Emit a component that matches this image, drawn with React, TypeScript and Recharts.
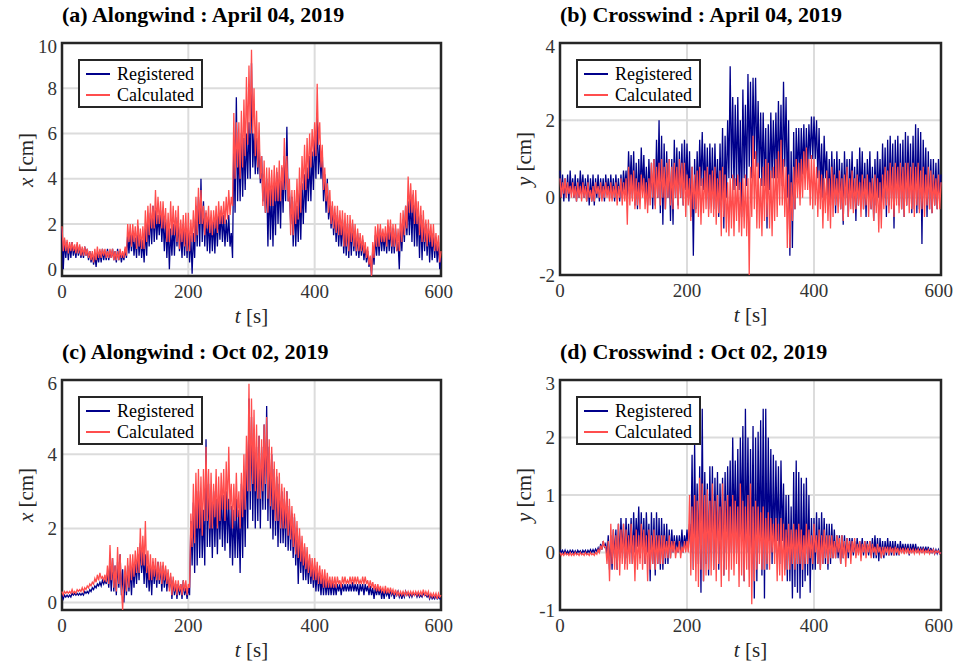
import React from 'react';
import { CartesianGrid, Line, LineChart, ReferenceArea, XAxis, YAxis } from 'recharts';

const FONT = "'Liberation Serif', 'DejaVu Serif', 'Times New Roman', serif";
const BLUE = '#00008B';
const RED = '#FF4D4D';

// sample times, every 2 s over 0..600 s
const time = Array.from({ length: 301 }, (_, i) => i * 2);
const xTicks = [0, 200, 400, 600];

// (a) Alongwind, April 04 2019 — one line per 40 s
const alongAprReg = [
  1.8, 0.0, 1.3, 0.5, 1.2, 0.4, 1.1, 0.5, 1.2, 0.6, 1.0, 0.5, 1.1, 0.6, 1.0, 0.5, 0.9, 0.5, 1.0, 0.6,
  0.9, 0.4, 0.8, 0.3, 0.7, 0.2, 0.6, 0.1, 0.7, 0.3, 0.8, 0.3, 0.9, 0.4, 0.8, 0.4, 0.9, 0.4, 0.8, 0.5,
  0.9, 0.4, 0.8, 0.3, 0.9, 0.4, 0.8, 0.3, 0.7, 0.4, 0.9, 0.5, 1.5, 0.7, 1.6, 0.8, 1.7, 0.6, 1.4, 0.5,
  1.9, 0.6, 1.5, 0.5, 1.3, 0.3, 1.8, 0.6, 2.2, 1.0, 2.5, 1.1, 2.8, 1.2, 2.6, 1.3, 2.4, 1.5, 2.6, 1.2,
  2.4, 0.8, 2.2, 0.5, 2.0, 0.0, 1.8, 0.6, 2.0, 0.6, 2.3, 1.0, 2.1, 0.8, 1.6, 0.5, 2.0, 0.6, 1.8, 0.5,
  1.8, 0.3, 1.5, -0.2, 1.6, 0.5, 2.8, 1.0, 3.2, 1.0, 4.0, 1.2, 3.0, 1.0, 2.5, 0.8, 2.3, 0.7, 2.2, 0.8,
  2.2, 0.7, 2.4, 1.0, 2.5, 1.3, 2.6, 1.2, 2.4, 1.0, 2.2, 1.2, 2.4, 1.0, 1.6, 0.5, 5.5, 2.5, 7.6, 3.0,
  5.5, 3.0, 6.0, 3.2, 5.8, 3.5, 6.0, 4.0, 6.5, 4.0, 9.1, 4.5, 6.0, 4.2, 5.8, 4.2, 5.6, 3.8, 5.0, 3.0,
  4.2, 2.5, 4.0, 1.0, 3.8, 1.3, 3.6, 1.0, 3.8, 1.5, 4.3, 2.0, 4.0, 1.8, 4.5, 2.5, 5.0, 3.0, 6.3, 3.0,
  3.5, 2.0, 3.2, 1.0, 3.0, 1.0, 2.8, 1.2, 3.5, 1.3, 3.8, 2.0, 4.2, 2.5, 4.5, 3.0, 5.0, 3.0, 5.2, 3.5,
  6.0, 4.0, 6.7, 4.2, 5.5, 4.0, 5.2, 3.0, 4.2, 2.5, 4.0, 2.2, 3.0, 1.8, 2.8, 1.5, 2.5, 1.2, 2.4, 1.0,
  2.2, 1.0, 2.2, 0.7, 1.8, 0.6, 2.0, 0.5, 1.9, 0.6, 2.0, 0.8, 1.6, 0.6, 1.6, 0.5, 1.4, 0.6, 1.3, 0.4,
  1.0, 0.3, 0.8, 0.1, 0.5, -0.3, 0.9, 0.2, 1.5, 0.6, 1.6, 0.6, 1.8, 0.8, 1.6, 0.8, 1.6, 0.7, 1.9, 0.8,
  1.9, 0.7, 1.8, 0.7, 1.8, 0.8, 1.2, 0.0, 2.0, 0.8, 2.2, 1.2, 2.8, 1.5, 3.0, 1.5, 3.2, 1.2, 3.3, 1.0,
  3.0, 1.0, 2.6, 0.5, 2.4, 0.4, 2.2, 0.8, 2.0, 0.6, 1.8, 0.3, 1.6, 0.4, 1.6, 0.5, 1.4, 0.3, 1.2, 0.0,
  0.5,
];
const alongAprCal = [
  1.9, 0.8, 1.4, 0.8, 1.3, 0.7, 1.2, 0.8, 1.2, 0.8, 1.1, 0.7, 1.2, 0.7, 1.1, 0.6, 1.0, 0.6, 1.0, 0.6,
  0.9, 0.5, 0.8, 0.4, 0.8, 0.3, 0.9, 0.4, 1.0, 0.5, 0.9, 0.5, 0.9, 0.6, 0.9, 0.5, 0.8, 0.5, 0.9, 0.5,
  0.9, 0.4, 0.8, 0.4, 0.8, 0.4, 0.9, 0.5, 0.8, 0.5, 1.0, 0.6, 2.0, 1.2, 2.0, 1.0, 2.0, 1.2, 1.9, 0.9,
  2.2, 1.0, 1.8, 0.9, 1.9, 0.9, 2.6, 1.2, 2.8, 1.5, 2.9, 1.8, 2.8, 1.8, 3.5, 2.0, 3.2, 2.0, 3.0, 1.8,
  3.0, 1.8, 2.7, 1.2, 2.5, 1.2, 3.0, 1.5, 2.8, 1.5, 2.6, 1.2, 2.8, 0.9, 2.2, 1.2, 2.4, 1.0, 2.5, 0.8,
  2.5, 0.8, 2.2, 1.2, 2.6, 1.2, 3.2, 1.5, 3.6, 2.0, 3.5, 2.0, 2.8, 1.5, 2.6, 1.8, 2.8, 1.6, 2.6, 1.5,
  2.6, 1.8, 2.8, 1.6, 3.0, 2.0, 2.8, 2.0, 3.0, 2.0, 3.2, 2.2, 3.5, 2.4, 3.2, 2.8, 6.9, 4.0, 6.5, 4.5,
  6.5, 4.0, 7.0, 4.5, 7.5, 5.0, 8.5, 5.5, 9.0, 6.0, 9.7, 6.0, 8.0, 5.0, 7.0, 4.5, 6.5, 4.0, 5.0, 2.8,
  4.8, 2.5, 4.5, 2.5, 4.5, 2.8, 4.4, 2.8, 4.6, 3.0, 4.5, 3.0, 4.8, 3.0, 4.6, 3.5, 5.8, 3.5, 5.0, 3.0,
  4.0, 1.5, 3.5, 1.5, 3.5, 2.0, 4.0, 2.2, 4.5, 2.5, 5.0, 3.5, 5.5, 3.5, 5.8, 4.0, 6.0, 4.5, 6.2, 5.0,
  6.5, 5.0, 8.2, 5.5, 6.5, 4.5, 5.5, 3.5, 4.5, 3.0, 3.8, 2.5, 3.5, 2.0, 3.0, 1.8, 2.8, 1.6, 2.8, 1.5,
  2.6, 1.5, 2.6, 1.0, 2.5, 1.0, 2.4, 0.8, 2.4, 1.2, 2.2, 1.0, 2.0, 0.8, 1.8, 0.8, 1.6, 0.8, 1.5, 0.7,
  1.2, 0.5, 1.0, 0.2, 0.6, -0.3, 1.2, 0.5, 1.9, 1.0, 2.0, 1.0, 2.0, 1.2, 1.8, 1.2, 1.9, 1.0, 2.2, 1.3,
  2.2, 1.0, 2.0, 1.0, 2.0, 0.8, 1.8, 0.8, 2.5, 1.2, 2.6, 1.5, 2.8, 1.8, 4.1, 2.5, 3.8, 2.5, 3.5, 2.0,
  3.5, 2.0, 3.0, 1.5, 2.8, 1.2, 2.6, 1.2, 2.2, 1.0, 2.2, 1.2, 2.0, 1.0, 2.0, 0.8, 1.6, 0.8, 1.5, 0.3,
  0.8,
];

// (b) Crosswind, April 04 2019
const crossAprReg = [
  0.7, 0.0, 0.6, -0.1, 0.5, 0.0, 0.6, -0.1, 0.7, 0.1, 0.5, 0.0, 0.6, -0.1, 0.5, 0.0, 0.7, 0.1, 0.6, 0.0,
  0.5, -0.1, 0.6, -0.2, 0.5, -0.1, 0.6, -0.2, 0.5, 0.0, 0.6, -0.1, 0.5, 0.0, 0.5, -0.1, 0.6, 0.1, 0.5, 0.0,
  0.6, 0.0, 0.5, -0.1, 0.6, 0.0, 0.5, -0.1, 0.6, 0.0, 0.7, 0.2, 0.7, 0.0, 1.2, 0.2, 1.1, 0.0, 1.2, -0.2,
  0.9, -0.3, 1.0, 0.0, 1.3, 0.2, 1.1, 0.0, 0.8, -0.2, 1.0, 0.0, 0.9, -0.3, 1.0, -0.2, 1.5, 0.0, 2.0, -0.4,
  1.6, -0.7, 1.4, -0.3, 1.2, 0.0, 1.0, -0.6, 1.0, -0.7, 1.5, 0.0, 1.3, -0.2, 1.2, 0.0, 1.4, -0.2, 1.5, 0.2,
  1.4, 0.0, 1.2, -0.5, 0.8, -1.5, 1.0, -0.3, 1.2, 0.0, 1.5, 0.3, 1.7, 0.2, 1.4, 0.0, 1.3, -0.3, 1.4, 0.0,
  1.3, -0.3, 1.4, 0.0, 1.0, -0.5, 1.4, -0.2, 1.8, -0.8, 1.6, 0.0, 2.0, 0.5, 3.4, 0.5, 2.6, 0.2, 2.4, 0.3,
  2.6, 0.2, 2.0, -0.5, 2.8, 0.5, 2.4, 0.3, 3.2, 0.8, 3.0, 0.5, 3.1, 1.0, 3.1, 0.8, 2.5, 0.5, 2.2, 0.3,
  2.2, 0.3, 1.8, -0.8, 1.9, 0.2, 2.2, 0.5, 2.0, 0.5, 2.2, 0.5, 2.5, 0.5, 2.4, 0.3, 3.0, 0.8, 2.6, 0.0,
  2.0, -1.5, 1.2, -1.3, 1.7, -0.3, 1.8, 0.5, 1.8, 0.4, 1.8, 0.6, 1.9, 0.5, 1.8, 0.6, 1.9, 1.0, 2.1, 1.0,
  2.1, 1.0, 2.0, 0.5, 1.8, 0.2, 1.4, 0.0, 1.6, 0.5, 1.2, -0.2, 1.0, -0.2, 1.2, 0.0, 1.0, -0.4, 1.2, -0.1,
  1.0, -0.3, 0.9, -0.7, 1.2, 0.0, 1.0, -0.5, 1.0, 0.0, 1.2, -0.3, 0.8, -0.6, 1.0, -0.2, 1.3, 0.0, 1.2, -0.3,
  0.9, -0.5, 1.0, 0.0, 1.2, -0.3, 0.8, -0.6, 1.0, -0.2, 1.2, 0.0, 1.0, -0.3, 1.4, 0.0, 1.3, -0.5, 1.5, -0.2,
  1.6, 0.0, 1.4, -0.8, 1.5, 0.0, 1.6, -0.2, 1.4, -0.3, 1.5, -0.5, 1.7, -0.2, 1.6, 0.0, 1.4, -0.4, 1.6, -0.3,
  1.9, -0.4, 1.8, -0.3, 1.7, -1.2, 1.5, 0.0, 1.3, -0.5, 1.2, -0.3, 1.0, -0.4, 1.0, -0.2, 0.9, -0.3, 1.0, 0.0,
  0.6,
];
const crossAprCal = [
  0.5, 0.0, 0.4, 0.1, 0.5, 0.0, 0.4, 0.1, 0.3, 0.0, 0.4, 0.0, 0.3, -0.1, 0.4, 0.0, 0.3, -0.1, 0.4, 0.0,
  0.3, -0.1, 0.4, 0.0, 0.2, -0.1, 0.3, -0.1, 0.4, 0.1, 0.3, 0.0, 0.4, -0.1, 0.3, 0.0, 0.4, 0.0, 0.3, -0.1,
  0.4, -0.1, 0.3, 0.0, 0.4, -0.2, 0.3, 0.0, 0.5, -0.2, 0.4, -0.1, 0.5, -0.7, 0.8, -0.2, 0.6, -0.1, 0.7, -0.3,
  0.5, -0.2, 0.4, -0.3, 0.6, 0.0, 0.5, -0.3, 0.4, -0.4, 0.5, -0.2, 0.9, 0.0, 1.0, -0.3, 0.8, 0.0, 0.9, -0.2,
  1.0, 0.0, 0.8, -0.3, 0.9, 0.0, 1.0, -0.2, 0.8, -0.3, 0.9, 0.0, 0.8, -0.3, 1.0, 0.0, 0.9, -0.2, 0.9, -0.5,
  0.6, -0.2, 0.5, -0.6, 0.8, -0.3, 0.6, -0.4, 0.7, -0.5, 0.8, -0.7, 0.5, -0.4, 0.7, -0.3, 0.8, -0.5, 0.6, -0.4,
  0.7, -0.5, 0.8, -0.7, 0.5, -0.4, 0.7, -1.0, 0.8, -0.5, 0.6, -0.9, 0.4, -1.0, 0.5, -0.8, 0.6, -1.0, 0.5, -0.6,
  0.6, -0.9, 0.4, -1.0, 0.5, -0.8, 0.6, -1.0, 0.5, -2.0, 0.8, -0.5, 1.6, -0.3, 1.2, -0.8, 0.9, -0.8, 0.5, -1.0,
  0.8, -0.6, 1.0, -0.5, 0.9, -0.8, 0.7, -1.0, 0.8, -0.6, 1.0, -0.5, 1.2, -0.2, 1.5, -0.2, 1.0, -0.5, 0.8, -1.3,
  0.6, -1.3, 0.4, -0.6, 0.8, -0.3, 1.0, 0.0, 0.9, -0.2, 1.0, 0.0, 1.2, 0.2, 1.3, 0.2, 1.0, -0.2, 1.1, -0.3,
  1.0, -0.2, 0.8, -0.5, 0.7, -0.3, 0.6, -0.8, 0.5, -0.4, 0.7, -0.6, 0.5, -0.8, 0.8, -0.5, 0.6, -0.2, 0.5, -0.4,
  0.7, -0.3, 0.5, -0.6, 0.6, -0.2, 0.8, -0.5, 0.5, -0.3, 0.7, -0.4, 0.5, -0.3, 0.6, -0.2, 0.4, -0.5, 0.6, -0.3,
  0.5, -0.2, 0.6, -0.5, 0.4, -0.3, 0.5, -0.6, 0.6, -0.4, 0.5, -0.9, 0.4, -0.8, 0.6, -0.3, 0.8, -0.2, 0.7, -0.4,
  0.9, -0.3, 0.8, -0.5, 0.9, -0.2, 0.8, -0.4, 0.9, -0.3, 0.8, -0.5, 0.9, -0.2, 0.9, -0.4, 0.8, -0.3, 0.9, -0.5,
  0.8, -0.2, 0.9, -0.4, 0.7, -0.3, 0.8, -0.5, 0.6, -0.2, 0.8, -0.3, 0.7, -0.4, 0.6, -0.2, 0.5, -0.3, 0.6, -0.3,
  0.4,
];

// (c) Alongwind, Oct 02 2019
const alongOctReg = [
  0.2, 0.1, 0.2, 0.15, 0.2, 0.15, 0.2, 0.15, 0.25, 0.2, 0.25, 0.2, 0.25, 0.2, 0.25, 0.2, 0.25, 0.2, 0.3, 0.25,
  0.3, 0.25, 0.35, 0.3, 0.4, 0.35, 0.45, 0.4, 0.5, 0.45, 0.55, 0.45, 0.6, 0.5, 0.6, 0.5, 0.8, 0.4, 1.0, 0.3,
  1.2, 0.3, 1.0, 0.2, 1.1, 0.4, 1.3, 0.2, 0.9, 0.0, 0.8, 0.2, 1.0, 0.3, 0.9, 0.2, 1.0, 0.4, 1.1, 0.5,
  1.3, 0.6, 1.6, 0.8, 1.4, 0.5, 1.3, 0.4, 1.0, 0.3, 1.0, 0.2, 1.1, 0.5, 1.0, 0.4, 1.1, 0.5, 1.0, 0.3,
  1.0, 0.4, 0.9, 0.3, 0.8, 0.4, 0.7, 0.1, 0.6, 0.2, 0.5, 0.1, 0.5, 0.2, 0.5, 0.1, 0.6, 0.2, 0.4, 0.1,
  0.4, 0.2, 2.2, 1.0, 2.7, 0.8, 3.0, 1.0, 3.0, 1.2, 2.8, 1.2, 2.5, 1.0, 4.4, 1.5, 3.2, 1.5, 2.8, 1.2,
  3.0, 1.5, 2.8, 1.3, 2.8, 1.7, 3.0, 1.5, 2.9, 1.4, 3.0, 1.6, 2.8, 1.2, 2.6, 1.0, 2.5, 1.2, 2.8, 1.2,
  2.5, 0.8, 3.2, 1.2, 3.5, 1.5, 4.0, 2.0, 5.5, 2.5, 5.0, 2.2, 4.5, 2.0, 4.2, 2.2, 4.5, 2.0, 4.2, 2.5,
  4.8, 2.5, 5.3, 2.2, 4.2, 2.0, 4.0, 1.7, 3.6, 1.8, 3.4, 1.5, 3.2, 1.6, 3.0, 1.6, 2.8, 1.5, 3.0, 1.4,
  2.6, 1.4, 2.4, 1.2, 2.3, 1.0, 2.0, 0.5, 1.8, 0.8, 1.6, 0.6, 1.5, 0.6, 1.3, 0.5, 1.2, 0.5, 1.0, 0.4,
  1.0, 0.3, 0.9, 0.3, 0.8, 0.2, 0.7, 0.2, 0.7, 0.2, 0.6, 0.2, 0.6, 0.2, 0.6, 0.2, 0.5, 0.2, 0.5, 0.3,
  0.5, 0.2, 0.5, 0.3, 0.5, 0.3, 0.5, 0.3, 0.5, 0.3, 0.55, 0.3, 0.5, 0.3, 0.5, 0.2, 0.5, 0.3, 0.5, 0.2,
  0.5, 0.3, 0.45, 0.2, 0.45, 0.2, 0.4, 0.1, 0.4, 0.2, 0.4, 0.2, 0.4, 0.1, 0.35, 0.1, 0.35, 0.2, 0.3, 0.1,
  0.35, 0.2, 0.3, 0.1, 0.3, 0.2, 0.3, 0.15, 0.25, 0.1, 0.25, 0.15, 0.3, 0.2, 0.25, 0.15, 0.25, 0.15, 0.25, 0.2,
  0.25, 0.15, 0.25, 0.15, 0.2, 0.15, 0.25, 0.2, 0.2, 0.15, 0.2, 0.1, 0.2, 0.1, 0.15, 0.1, 0.2, 0.1, 0.15, 0.1,
  0.1,
];
const alongOctCal = [
  0.3, 0.2, 0.3, 0.25, 0.3, 0.25, 0.3, 0.25, 0.35, 0.25, 0.3, 0.25, 0.35, 0.3, 0.35, 0.3, 0.4, 0.3, 0.4, 0.35,
  0.45, 0.4, 0.5, 0.45, 0.55, 0.5, 0.65, 0.55, 0.75, 0.6, 0.8, 0.65, 0.7, 0.6, 0.75, 0.55, 1.0, 0.5, 1.55, 0.6,
  1.2, 0.4, 1.0, 0.3, 1.5, 0.5, 1.3, 0.4, -0.2, 0.6, 1.0, 0.3, 1.2, 0.4, 1.3, 0.6, 1.3, 0.7, 1.4, 0.8,
  1.5, 0.8, 2.0, 1.0, 1.8, 1.0, 2.2, 0.8, 1.4, 0.6, 1.3, 0.6, 1.2, 0.7, 1.2, 0.6, 1.1, 0.6, 1.1, 0.5,
  1.1, 0.6, 1.0, 0.5, 0.9, 0.3, 0.8, 0.2, 0.7, 0.3, 0.6, 0.2, 0.6, 0.3, 0.5, 0.2, 0.6, 0.3, 0.6, 0.2,
  0.5, 0.4, 2.4, 1.5, 3.2, 1.6, 3.5, 2.0, 3.6, 2.0, 3.4, 1.8, 3.6, 2.2, 4.2, 2.2, 3.6, 2.0, 3.5, 2.0,
  3.2, 2.3, 3.6, 2.0, 3.4, 2.2, 3.5, 2.5, 3.6, 2.2, 3.8, 2.5, 4.2, 2.5, 3.2, 2.0, 3.2, 2.2, 3.5, 2.3,
  3.0, 2.0, 3.5, 2.3, 4.0, 2.5, 4.5, 3.0, 5.9, 3.0, 5.5, 3.2, 5.2, 3.0, 4.8, 2.8, 4.5, 2.8, 4.4, 3.0,
  4.8, 3.2, 5.0, 2.8, 4.4, 2.6, 4.2, 2.5, 3.8, 2.2, 3.6, 2.2, 3.5, 2.0, 3.2, 2.0, 3.1, 2.0, 3.0, 1.8,
  2.8, 1.7, 2.6, 1.5, 2.4, 1.3, 2.2, 1.2, 2.0, 1.1, 1.8, 1.0, 1.6, 0.9, 1.5, 0.8, 1.3, 0.7, 1.2, 0.6,
  1.2, 0.6, 1.1, 0.5, 1.0, 0.5, 0.9, 0.4, 0.9, 0.4, 0.8, 0.4, 0.7, 0.4, 0.7, 0.4, 0.7, 0.4, 0.7, 0.5,
  0.6, 0.4, 0.7, 0.5, 0.7, 0.5, 0.6, 0.5, 0.7, 0.5, 0.7, 0.5, 0.7, 0.5, 0.7, 0.5, 0.6, 0.5, 0.7, 0.5,
  0.7, 0.5, 0.6, 0.4, 0.6, 0.4, 0.55, 0.35, 0.5, 0.3, 0.5, 0.3, 0.45, 0.3, 0.4, 0.25, 0.45, 0.25, 0.4, 0.25,
  0.4, 0.25, 0.35, 0.2, 0.35, 0.2, 0.3, 0.2, 0.3, 0.2, 0.3, 0.2, 0.3, 0.2, 0.3, 0.2, 0.3, 0.2, 0.3, 0.2,
  0.3, 0.2, 0.3, 0.2, 0.3, 0.2, 0.35, 0.2, 0.3, 0.2, 0.3, 0.15, 0.25, 0.15, 0.25, 0.15, 0.25, 0.1, 0.25, 0.15,
  0.2,
];

// (d) Crosswind, Oct 02 2019
const crossOctReg = [
  0.05, 0.0, 0.04, -0.02, 0.04, -0.02, 0.03, -0.02, 0.04, 0.0, 0.04, -0.02, 0.03, -0.02, 0.04, 0.0, 0.03, -0.02, 0.04, 0.0,
  0.04, -0.02, 0.04, 0.0, 0.05, 0.0, 0.05, 0.0, 0.06, 0.02, 0.08, 0.0, 0.15, 0.05, 0.2, 0.1, 0.15, -0.05, 0.3, -0.3,
  0.3, -0.3, 0.4, -0.1, 0.4, -0.3, 0.5, -0.1, 0.6, 0.0, 0.5, -0.2, 0.6, -0.1, 0.5, 0.0, 0.6, -0.2, 0.7, 0.0,
  0.6, 0.1, 0.8, -0.1, 0.7, 0.0, 0.6, -0.2, 0.7, 0.0, 0.5, -0.5, 0.7, -0.2, 0.6, -0.4, 0.7, -0.2, 0.6, -0.3,
  0.6, -0.3, 0.5, -0.2, 0.5, -0.2, 0.4, -0.1, 0.4, 0.0, 0.3, 0.0, 0.3, 0.0, 0.3, 0.0, 0.4, 0.0, 0.3, 0.1,
  0.4, 0.1, 0.5, 0.0, 1.7, -0.3, 1.9, 0.0, 1.2, -0.2, 1.5, -0.7, 2.5, -0.5, 1.4, -0.2, 1.2, -0.4, 1.5, 0.0,
  1.5, -0.3, 1.3, 0.0, 1.4, -0.3, 1.2, 0.2, 1.3, -0.4, 1.4, 0.0, 1.5, 0.2, 1.6, 0.0, 2.0, 0.3, 1.6, 0.0,
  1.8, -0.2, 2.0, 0.3, 2.2, -0.5, 2.5, 0.0, 2.0, -0.3, 1.8, -0.2, 2.2, -0.8, 2.0, -0.5, 2.1, 0.0, 2.3, -0.4,
  2.5, -0.8, 2.5, -0.3, 2.0, 0.0, 1.8, -0.2, 1.7, 0.0, 1.6, 0.2, 1.5, -0.2, 1.6, 0.2, 1.2, -0.3, 1.0, -0.5,
  1.0, -0.5, 0.8, -0.8, 1.4, -0.6, 1.6, -0.7, 1.4, -0.8, 1.3, -0.6, 1.2, -0.5, 1.3, -0.4, 1.0, -0.7, 0.6, -0.3,
  0.6, -0.3, 0.7, -0.2, 0.6, -0.3, 0.7, -0.2, 0.6, -0.2, 0.5, -0.3, 0.5, -0.2, 0.5, -0.1, 0.4, -0.1, 0.3, -0.1,
  0.3, -0.2, 0.3, -0.1, 0.3, -0.1, 0.25, -0.1, 0.25, 0.0, 0.25, -0.05, 0.2, -0.05, 0.25, 0.0, 0.2, 0.0, 0.25, -0.05,
  0.2, 0.0, 0.2, -0.05, 0.2, -0.05, 0.25, -0.1, 0.3, -0.1, 0.25, -0.15, 0.25, -0.1, 0.2, -0.1, 0.2, -0.05, 0.25, -0.05,
  0.2, -0.05, 0.2, -0.05, 0.2, -0.05, 0.15, -0.05, 0.2, 0.0, 0.15, 0.0, 0.15, 0.0, 0.15, -0.05, 0.15, 0.0, 0.15, 0.0,
  0.15, 0.0, 0.1, 0.0, 0.1, 0.0, 0.1, 0.0, 0.1, 0.0, 0.1, -0.02, 0.08, 0.0, 0.06, -0.02, 0.05, -0.02, 0.05, -0.02,
  0.0,
];
const crossOctCal = [
  0.0, -0.05, -0.02, -0.05, 0.0, -0.04, -0.02, -0.05, 0.0, -0.05, -0.02, -0.05, 0.0, -0.04, -0.02, -0.05, 0.0, -0.04, -0.02, -0.05,
  0.0, -0.04, -0.02, -0.05, 0.0, -0.04, -0.02, -0.05, 0.0, -0.03, 0.05, 0.0, 0.12, 0.05, 0.2, 0.1, 0.1, -0.2, 0.2, -0.5,
  0.5, -0.2, 0.4, -0.3, 0.3, -0.3, 0.5, -0.4, 0.4, -0.2, 0.5, -0.3, 0.4, -0.3, 0.3, -0.2, 0.5, -0.2, 0.3, -0.5,
  0.4, -0.3, 0.3, -0.2, 0.5, -0.3, 0.4, -0.2, 0.3, -0.5, 0.4, -0.3, 0.3, -0.2, 0.4, -0.3, 0.3, -0.2, 0.3, -0.2,
  0.3, -0.2, 0.3, -0.1, 0.2, -0.1, 0.3, -0.1, 0.2, 0.0, 0.2, -0.1, 0.1, 0.0, 0.2, -0.1, 0.1, 0.0, 0.2, 0.0,
  0.2, 0.0, 1.0, -0.4, 0.8, -0.3, 1.0, -0.5, 0.9, -0.6, 1.3, -0.3, 1.2, -0.5, 1.0, -0.4, 1.1, -0.3, 0.9, -0.4,
  1.2, -0.3, 0.9, -0.5, 1.0, -0.2, 0.8, -0.6, 1.2, -0.4, 0.9, -0.3, 1.0, -0.5, 0.8, -0.3, 1.0, -0.4, 0.9, -0.2,
  0.8, -0.6, 1.2, -0.4, 0.9, -0.5, 0.8, -0.3, 1.0, -0.6, 1.2, -0.9, 0.8, -0.5, 0.9, -0.3, 0.8, -0.2, 0.7, -0.3,
  0.8, -0.3, 0.6, -0.2, 0.7, -0.3, 0.6, 0.0, 0.5, -0.2, 0.6, -0.5, 0.5, -0.4, 0.6, -0.5, 0.5, -0.4, 0.4, -0.3,
  0.5, -0.3, 0.4, -0.2, 0.5, -0.3, 0.4, -0.2, 0.5, -0.2, 0.4, -0.3, 0.3, -0.2, 0.5, -0.2, 0.4, -0.1, 0.3, -0.2,
  0.5, 0.0, 0.3, -0.2, 0.4, -0.3, 0.3, -0.2, 0.4, -0.1, 0.3, -0.2, 0.3, -0.1, 0.3, -0.1, 0.2, -0.1, 0.3, 0.0,
  0.25, -0.2, 0.3, -0.1, 0.2, -0.25, 0.25, 0.0, 0.2, -0.2, 0.2, 0.0, 0.25, -0.1, 0.15, -0.05, 0.2, -0.15, 0.15, 0.0,
  0.2, -0.1, 0.15, 0.0, 0.2, -0.1, 0.15, 0.0, 0.1, -0.05, 0.15, 0.0, 0.1, -0.1, 0.1, -0.05, 0.1, 0.0, 0.1, -0.05,
  0.1, 0.0, 0.08, -0.05, 0.1, 0.0, 0.08, -0.04, 0.06, 0.0, 0.08, -0.03, 0.06, 0.0, 0.08, -0.03, 0.05, 0.0, 0.06, -0.02,
  0.05, 0.0, 0.06, -0.02, 0.05, 0.0, 0.06, -0.02, 0.04, 0.0, 0.05, -0.02, 0.04, 0.0, 0.05, -0.02, 0.03, 0.0, 0.03, -0.02,
  0.0,
];

type PanelProps = {
  x: number;
  y: number;
  w: number;
  h: number;
  title: string;
  v: string;
  domain: [number, number];
  ticks: number[];
  reg: number[];
  cal: number[];
};

const tickStyle = { fill: '#333', fontSize: 19, fontFamily: FONT };

const Panel: React.FC<PanelProps> = ({ x, y, w, h, title, v, domain, ticks, reg, cal }) => {
  const rows = time.map((t, i) => ({ t, reg: reg[i], cal: cal[i] }));
  const padL = 60, padT = 8, padR = 12, padB = 50;

  return (
    <>
      <div style={{ position: 'absolute', left: x, top: y - 40, fontFamily: FONT, fontWeight: 'bold', fontSize: 22, lineHeight: '24px', whiteSpace: 'nowrap', color: '#000' }}>
        {title}
      </div>
      <div style={{ position: 'absolute', left: x - padL, top: y - padT }}>
        <LineChart width={w + padL + padR} height={h + padT + padB} data={rows} margin={{ top: padT, right: padR, left: 0, bottom: 0 }}>
          <CartesianGrid stroke="#dcdcdc" strokeWidth={2} />
          <XAxis dataKey="t" type="number" domain={[0, 600]} ticks={xTicks} height={padB}
            tickSize={6} tickMargin={3} tickLine={false} axisLine={false} tick={tickStyle} />
          <YAxis type="number" domain={domain} ticks={ticks} width={padL} allowDataOverflow
            tickSize={3} tickMargin={2} tickLine={false} axisLine={false} tick={tickStyle} />
          <Line dataKey="reg" stroke={BLUE} strokeWidth={1.3} dot={false} isAnimationActive={false} />
          <Line dataKey="cal" stroke={RED} strokeWidth={1.3} dot={false} isAnimationActive={false} />
          <ReferenceArea x1={0} x2={600} y1={domain[0]} y2={domain[1]} fill="none" fillOpacity={0}
            stroke="#262626" strokeWidth={2.5} ifOverflow="visible" />
        </LineChart>
      </div>

      {/* axis labels */}
      <div style={{ position: 'absolute', left: x + w / 2, top: y + h + 40, transform: 'translate(-50%, -50%)', fontFamily: FONT, fontSize: 21, color: '#262626', whiteSpace: 'nowrap' }}>
        <i>t</i> [s]
      </div>
      <div style={{ position: 'absolute', left: x - 36, top: y + h / 2, transform: 'translate(-50%, -50%) rotate(-90deg)', fontFamily: FONT, fontSize: 21, color: '#262626', whiteSpace: 'nowrap' }}>
        <i>{v}</i> [cm]
      </div>

      {/* legend */}
      <div style={{ position: 'absolute', left: x + 16, top: y + 16, width: 125, height: 49, boxSizing: 'border-box', border: '2px solid #262626', background: '#fff', fontFamily: FONT, fontSize: 18, color: '#000' }}>
        {[{ c: BLUE, n: 'Registered' }, { c: RED, n: 'Calculated' }].map((it, i) => (
          <div key={it.n}>
            <div style={{ position: 'absolute', left: 6, top: 13 + i * 21 - 1, width: 24, height: 1.5, background: it.c }} />
            <div style={{ position: 'absolute', left: 37, top: 13 + i * 21 - 11, lineHeight: '22px', whiteSpace: 'nowrap' }}>{it.n}</div>
          </div>
        ))}
      </div>
    </>
  );
};

const App: React.FC = () => (
  <div style={{ position: 'absolute', left: 0, top: 0, width: 958, height: 665, background: '#fff', overflow: 'hidden' }}>
    <Panel x={62} y={43} w={379} h={233} title="(a) Alongwind : April 04, 2019" v="x"
      domain={[-0.3, 10]} ticks={[0, 2, 4, 6, 8, 10]} reg={alongAprReg} cal={alongAprCal} />
    <Panel x={560} y={43} w={381} h={232} title="(b) Crosswind : April 04, 2019" v="y"
      domain={[-2, 4]} ticks={[-2, 0, 2, 4]} reg={crossAprReg} cal={crossAprCal} />
    <Panel x={62} y={380} w={379} h={230} title="(c) Alongwind : Oct 02, 2019" v="x"
      domain={[-0.2, 6]} ticks={[0, 2, 4, 6]} reg={alongOctReg} cal={alongOctCal} />
    <Panel x={560} y={380} w={381} h={230} title="(d) Crosswind : Oct 02, 2019" v="y"
      domain={[-1, 3]} ticks={[-1, 0, 1, 2, 3]} reg={crossOctReg} cal={crossOctCal} />
  </div>
);

export default App;
